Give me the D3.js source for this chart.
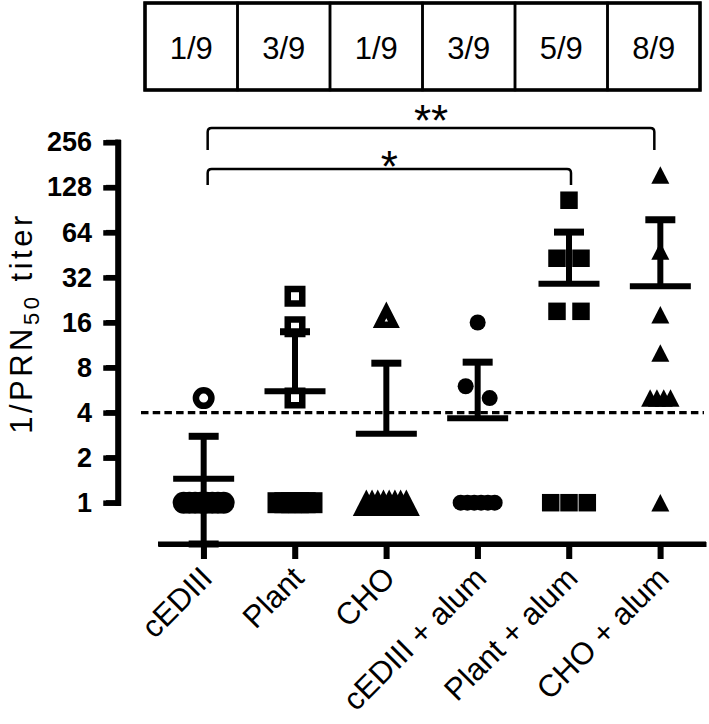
<!DOCTYPE html>
<html><head><meta charset="utf-8">
<script src="https://cdn.jsdelivr.net/npm/d3@7"></script>
<style>body{margin:0;background:#fff} svg{display:block}</style>
</head><body>
<svg id="c" width="709" height="724"></svg>
<script>
// ---------------- data ----------------
const categories = ["cEDIII","Plant","CHO","cEDIII + alum","Plant + alum","CHO + alum"];
const symbolTypes = ["circle","square","triangle","circle","square","triangle"];
const openSymbols = [true,true,true,false,false,false];
const cEDIII     = [5,1,1,1,1,1,1,1,1];
const plant      = [24,15,5,1,1,1,1,1,1];
const cho        = [18,1,1,1,1,1,1,1,1];
const cEDIIIalum = [16,6,5,1,1,1,1,1,1];
const plantAlum  = [105,43,43,19,19,1,1,1];
const choAlum    = [155,48,18,10,5,5,5,5,1];
const responders = ["1/9","3/9","1/9","3/9","5/9","8/9"];
const yTicks = [1,2,4,8,16,32,64,128,256];
const threshold = 4;
const comparisons = [{from:0,to:5,label:"**"},{from:0,to:4,label:"*"}];

// ---------------- drawing ----------------
const font = "'Liberation Sans', Arial, Helvetica, sans-serif";
const groups = [cEDIII, plant, cho, cEDIIIalum, plantAlum, choAlum];
const svg = d3.select("#c").attr("font-family", font);

const x = d3.scalePoint().domain(categories).range([158,706]).padding(0.5);
const y = d3.scaleLog().base(2).domain([1,256]).range([502.7,142.3]);
const axisY = 544;

// table of responders
const tx = d3.scaleBand().domain(categories).range([145,700]);
const table = svg.append("g");
table.selectAll("rect.cell").data(categories).join("rect").attr("class","cell")
  .attr("x", d=>tx(d)).attr("y",3).attr("width",tx.bandwidth()).attr("height",87)
  .attr("fill","none").attr("stroke","#000").attr("stroke-width",2.5);
table.append("rect").attr("x",145).attr("y",3).attr("width",555).attr("height",87)
  .attr("fill","none").attr("stroke","#000").attr("stroke-width",3.5);
table.selectAll("text").data(categories).join("text")
  .attr("x", d=>tx(d)+tx.bandwidth()/2).attr("y",48)
  .attr("text-anchor","middle").attr("dominant-baseline","central")
  .attr("font-size",31).attr("fill","#000").text((d,i)=>responders[i]);

// y axis
const gy = svg.append("g").attr("transform","translate(118,0)")
  .call(d3.axisLeft(y).tickValues(yTicks).tickFormat(d=>String(d)).tickSize(12).tickSizeOuter(0).tickPadding(14));
gy.attr("font-family", font).attr("stroke-width",5);
gy.selectAll(".domain, .tick line").attr("stroke-width",5.5).attr("stroke-linecap","square");
gy.selectAll(".tick text").attr("font-size",27).attr("font-weight","bold").attr("fill","#000").attr("stroke","none");
const yl0 = svg.append("g").attr("stroke","#000");
yl0.append("line").attr("x1",118).attr("x2",118).attr("y1",y(256)).attr("y2",y(1)).attr("stroke-width",5.5).attr("stroke-linecap","square");
yl0.selectAll("line.t").data(yTicks).join("line").attr("class","t")
  .attr("x1",106).attr("x2",118).attr("y1",d=>y(d)).attr("y2",d=>y(d)).attr("stroke-width",5);

// y label
const yl = svg.append("text").attr("transform","translate(32,323) rotate(-90)")
  .attr("text-anchor","middle").attr("font-size",31).attr("letter-spacing",3.5).attr("fill","#000");
yl.append("tspan").text("1/PRN");
yl.append("tspan").attr("font-size",22).attr("dy",7).text("50");
yl.append("tspan").attr("dy",-7).text(" titer");

// x axis
const gx = svg.append("g").attr("transform",`translate(0,${axisY})`)
  .call(d3.axisBottom(x).tickSize(15).tickSizeOuter(0));
gx.attr("font-family", font);
gx.selectAll(".domain").attr("stroke-width",5);
gx.selectAll(".tick line").attr("stroke-width",5.5);
gx.selectAll(".tick text").attr("font-size",31).attr("fill","#000")
  .attr("text-anchor","end").attr("y",0).attr("dy",0)
  .attr("transform","translate(10,36) rotate(-45)");
const xl0 = svg.append("g").attr("stroke","#000");
xl0.append("line").attr("x1",158).attr("x2",706).attr("y1",axisY).attr("y2",axisY).attr("stroke-width",5);
xl0.selectAll("line.t").data(categories).join("line").attr("class","t")
  .attr("x1",d=>x(d)).attr("x2",d=>x(d)).attr("y1",axisY).attr("y2",axisY+15).attr("stroke-width",5.5);

// threshold
svg.append("line").attr("x1",141).attr("x2",704)
  .attr("y1",y(threshold)).attr("y2",y(threshold))
  .attr("stroke","#000").attr("stroke-width",3.3).attr("stroke-dasharray","7.5 4.2");

// symbol geometry
function tri(p, w, h, cx, cy){ p.moveTo(cx, cy-h/2); p.lineTo(cx+w/2, cy+h/2); p.lineTo(cx-w/2, cy+h/2); p.closePath(); }
function symbolPath(type, open, solid){
  const p = d3.path();
  if(type==="circle"){
    if(open){ p.moveTo(11,0); p.arc(0,0,11,0,2*Math.PI); if(!solid){ p.moveTo(4.5,0); p.arc(0,0,4.5,0,2*Math.PI);} }
    else { p.moveTo(8,0); p.arc(0,0,8,0,2*Math.PI); }
  } else if(type==="square"){
    if(open){ p.rect(-10.5,-10.5,21,21); if(!solid) p.rect(-4,-4,8,8); }
    else p.rect(-8.75,-8.75,17.5,17.5);
  } else {
    if(open){
      const w=27,h=26.5; tri(p,w,h,0,0);
      if(!solid){ // tiny hole at the incenter
        const side=Math.hypot(w/2,h), r=(0.5*w*h)/((2*side+w)/2);
        tri(p,w*0.12,h*0.12,0,h/2 - r);
      }
    } else tri(p,18,17.5,0,0);
  }
  return p.toString();
}

// points with horizontal spreading of coincident values
const points = [];
groups.forEach((vals,gi)=>{
  const sorted = vals.slice().sort((a,b)=>b-a);
  const clusters = [];
  sorted.forEach(v=>{
    const last = clusters[clusters.length-1];
    if(last && Math.abs(y(v)-y(last[0]))<16) last.push(v); else clusters.push([v]);
  });
  clusters.forEach(cl=>{
    const k = cl.length;
    const s = k===1?0 : k===2?24 : k===3?18.3 : Math.min(6.8, 40/(k-1));
    cl.forEach((v,i)=>points.push({gi, v, dx:(i-(k-1)/2)*s, solid:k>3}));
  });
});
svg.append("g").selectAll("path").data(points).join("path")
  .attr("transform", d=>`translate(${x(categories[d.gi])+d.dx},${y(d.v)})`)
  .attr("d", d=>symbolPath(symbolTypes[d.gi], openSymbols[d.gi], d.solid))
  .attr("fill","#000").attr("fill-rule","evenodd");

// mean ± SD
const eb = svg.append("g").attr("stroke","#000");
function seg(x1,y1,x2,y2,w){ eb.append("line").attr("x1",x1).attr("x2",x2).attr("y1",y1).attr("y2",y2).attr("stroke-width",w); }
groups.forEach((vals,gi)=>{
  const m = d3.mean(vals), sd = d3.deviation(vals);
  const cx = x(categories[gi]);
  const yTop = y(m+sd), lo = m-sd;
  const yBot = lo>0 ? Math.min(y(lo), axisY) : y(m);
  seg(cx,yTop,cx,yBot,6);
  seg(cx-15,yTop,cx+15,yTop,7);
  if(lo>0) seg(cx-15,yBot,cx+15,yBot,7);
  seg(cx-30.5,y(m),cx+30.5,y(m),6);
});

// significance brackets
const levels = [{top:128,bot:150,ty:136},{top:169,bot:185,ty:182}];
comparisons.forEach((c,i)=>{
  const x0 = x(categories[c.from]) + 4, x1 = x(categories[c.to]) - (c.to===5?6:-2);
  const L = levels[i], r = 4;
  const p = d3.path();
  p.moveTo(x0, L.bot); p.lineTo(x0, L.top+r); p.quadraticCurveTo(x0, L.top, x0+r, L.top);
  p.lineTo(x1-r, L.top); p.quadraticCurveTo(x1, L.top, x1, L.top+r); p.lineTo(x1, L.bot);
  svg.append("path").attr("d",p.toString()).attr("fill","none").attr("stroke","#000").attr("stroke-width",2.5);
  svg.append("text").attr("x",(x0+x1)/2).attr("y",L.ty).attr("text-anchor","middle")
    .attr("font-size",44).attr("fill","#000").text(c.label);
});
</script>
</body></html>
